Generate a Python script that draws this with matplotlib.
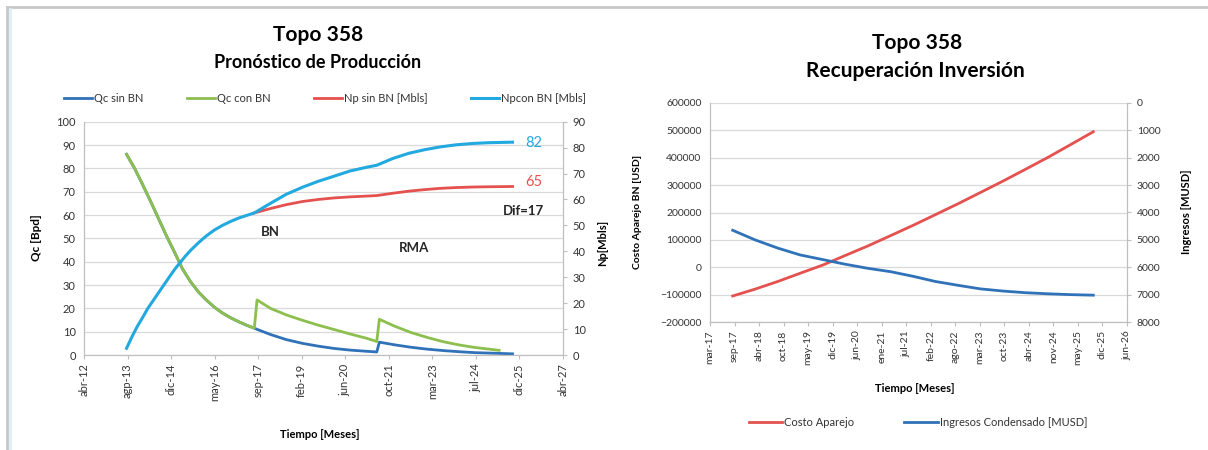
import matplotlib
matplotlib.use('Agg')
import matplotlib.pyplot as plt
import matplotlib.dates as mdates
from matplotlib.lines import Line2D
import numpy as np
import pandas as pd

plt.rcParams['font.family'] = ['Lato', 'DejaVu Sans']

# ---- Left chart: Pronostico de Produccion ----
left_tick_labels = ['abr-12', 'agp-13', 'dic-14', 'may-16', 'sep-17', 'feb-19',
                    'jun-20', 'oct-21', 'mar-23', 'jul-24', 'dic-25', 'abr-27']

# decline shared by both Qc series before the BN install
qc_pre_dates = ['2013-08', '2013-11', '2014-02', '2014-05', '2014-08', '2014-11',
                '2015-02', '2015-05', '2015-08', '2015-11', '2016-02', '2016-05',
                '2016-08', '2016-11', '2017-02', '2017-05', '2017-08']
qc_pre = [86, 80, 73, 66, 58.5, 51, 44, 37, 31.5, 27, 23.5, 20.5,
          18, 16, 14.3, 12.8, 11.5]

qc_sin_dates = ['2017-09', '2018-02', '2018-08', '2019-02', '2019-08', '2020-02',
                '2020-08', '2021-02', '2021-06', '2021-07', '2022-01', '2022-07',
                '2023-01', '2023-07', '2024-01', '2024-07', '2025-01', '2025-09']
qc_sin = [11.0, 8.8, 6.6, 5.0, 3.8, 2.8, 2.1, 1.6, 1.3, 5.5, 4.3, 3.3,
          2.5, 1.9, 1.4, 1.0, 0.8, 0.5]

qc_con_dates = ['2017-09', '2018-02', '2018-08', '2019-02', '2019-08', '2020-02',
                '2020-08', '2021-02', '2021-06', '2021-07', '2022-01', '2022-07',
                '2023-01', '2023-07', '2024-01', '2024-07', '2025-01', '2025-04']
qc_con = [23.6, 20.0, 17.2, 14.9, 12.8, 10.9, 9.0, 7.2, 5.8, 15.3, 12.2, 9.6,
          7.5, 5.7, 4.3, 3.2, 2.4, 2.0]

np_con_dates = ['2013-08', '2013-10', '2013-12', '2014-02', '2014-04', '2014-06',
                '2014-08', '2014-10', '2014-12', '2015-02', '2015-04', '2015-06',
                '2015-08', '2015-11', '2016-02', '2016-05', '2016-08', '2016-11',
                '2017-02', '2017-05', '2017-08', '2018-02', '2018-08', '2019-02',
                '2019-08', '2020-02', '2020-08', '2021-02', '2021-06', '2021-12',
                '2022-06', '2022-12', '2023-06', '2023-12', '2024-06', '2024-12',
                '2025-09']
np_con = [2.6, 7, 11, 14.5, 18, 21, 24, 27, 30, 33, 35.5, 38,
          40.3, 43.3, 46, 48.2, 50, 51.5, 52.8, 53.8, 54.8, 58.5, 62, 64.7,
          67, 69, 71, 72.4, 73.2, 75.8, 77.8, 79.2, 80.3, 81.1, 81.6, 81.9,
          82.1]

np_sin_dates = ['2017-08', '2018-02', '2018-08', '2019-02', '2019-08', '2020-02',
                '2020-08', '2021-02', '2021-06', '2021-12', '2022-06', '2022-12',
                '2023-06', '2023-12', '2024-06', '2024-12', '2025-09']
np_sin = [54.8, 56.5, 58, 59.2, 60, 60.6, 61, 61.3, 61.5, 62.4, 63.2, 63.8,
          64.3, 64.6, 64.8, 64.9, 65]

# ---- Right chart: Recuperacion Inversion ----
right_tick_labels = ['mar-17', 'sep-17', 'abr-18', 'oct-18', 'may-19', 'dic-19',
                     'jun-20', 'ene-21', 'jul-21', 'feb-22', 'ago-22', 'mar-23',
                     'oct-23', 'abr-24', 'nov-24', 'may-25', 'dic-25', 'jun-26']
inv_dates = ['2017-09', '2018-03', '2018-09', '2019-03', '2019-09', '2020-03',
             '2020-09', '2021-03', '2021-09', '2022-03', '2022-09', '2023-03',
             '2023-09', '2024-03', '2024-09', '2025-03', '2025-09']
costo = [-105000, -80000, -52000, -22000, 8000, 43000, 78000, 115000, 153000,
         192000, 232000, 273000, 315000, 358000, 402000, 448000, 495000]
ingresos = [4650, 5000, 5300, 5550, 5720, 5890, 6040, 6160, 6330, 6520, 6660,
            6790, 6870, 6930, 6970, 7000, 7020]

C_BLUE = '#2F72B8'
C_GREEN = '#8CBF4E'
C_RED = '#E4514E'
C_CYAN = '#22A9DF'
C_GRID = '#D9D9D9'
C_SPINE = '#BFBFBF'
C_TEXT = '#333333'

W, H = 1208, 450
fig = plt.figure(figsize=(W / 100, H / 100), dpi=100)
fig.patch.set_facecolor('white')


def style_axes(a, a2, size):
    for s in ['left', 'right', 'bottom', 'top']:
        a.spines[s].set_color(C_SPINE)
        a2.spines[s].set_color(C_SPINE)
    a.spines['top'].set_visible(False)
    a2.spines['top'].set_visible(False)
    a.yaxis.grid(True, color=C_GRID, lw=0.9)
    a.set_axisbelow(True)
    a.tick_params(axis='y', length=0, labelsize=size, labelcolor=C_TEXT, pad=6)
    a2.tick_params(axis='y', length=3, color=C_SPINE, labelsize=size,
                   labelcolor=C_TEXT, pad=4)
    a.tick_params(axis='x', length=3, color=C_SPINE, labelsize=size,
                  labelcolor=C_TEXT, rotation=90, pad=3)


def d(lst):
    return pd.to_datetime(lst)


# ---------------- left chart ----------------
ax = fig.add_axes([84 / W, 1 - 355 / H, (563 - 84) / W, (355 - 121.7) / H])
ax2 = ax.twinx()
style_axes(ax, ax2, 8)

x0, x1 = mdates.date2num(pd.Timestamp('2012-04-01')), mdates.date2num(pd.Timestamp('2027-04-01'))
ax.set_xlim(x0, x1)
ax.set_xticks(np.linspace(x0, x1, len(left_tick_labels)))
ax.set_xticklabels(left_tick_labels)
ax.set_ylim(0, 100)
ax.set_yticks(range(0, 101, 10))
ax2.set_ylim(0, 90)
ax2.set_yticks(range(0, 91, 10))

l1, = ax.plot(d(qc_pre_dates + qc_sin_dates), qc_pre + qc_sin, color=C_BLUE, lw=2.0, label='Qc sin BN')
l2, = ax.plot(d(qc_pre_dates + qc_con_dates), qc_pre + qc_con, color=C_GREEN, lw=2.0, label='Qc con BN')
l3, = ax2.plot(d(np_sin_dates), np_sin, color=C_RED, lw=2.0, label='Np sin BN [Mbls]')
l4, = ax2.plot(d(np_con_dates), np_con, color=C_CYAN, lw=2.2, label='Npcon BN [Mbls]')

ax.text(pd.Timestamp('2026-05-01'), 91, '82', color=C_CYAN, fontsize=10.5, ha='center', va='center')
ax.text(pd.Timestamp('2026-05-01'), 74, '65', color=C_RED, fontsize=10.5, ha='center', va='center')
ax.text(pd.Timestamp('2026-01-01'), 61.8, 'Dif=17', color='#262626', fontsize=9.5,
        fontweight='bold', ha='center', va='center')
ax.text(pd.Timestamp('2018-02-01'), 52.7, 'BN', color='#262626', fontsize=9.5,
        fontweight='bold', ha='center', va='center')
ax.text(pd.Timestamp('2022-08-01'), 46, 'RMA', color='#262626', fontsize=9.5,
        fontweight='bold', ha='center', va='center')

fig.legend(handles=[l1, l2, l3, l4], loc='center', bbox_to_anchor=(325 / W, 1 - 98 / H),
           ncol=4, frameon=False, fontsize=8, handlelength=2.5, columnspacing=3.9,
           handletextpad=0.2, labelcolor=C_TEXT)

fig.text(318 / W, 1 - 35 / H, 'Topo 358', fontsize=15, fontweight='bold', ha='center', va='center')
fig.text(318 / W, 1 - 63 / H, 'Pronóstico de Producción', fontsize=13, fontweight='bold',
         ha='center', va='center')
fig.text(36 / W, 1 - 238 / H, 'Qc [Bpd]', fontsize=8.5, fontweight='bold', rotation=90,
         ha='center', va='center')
fig.text(603 / W, 1 - 243 / H, 'Np[Mbls]', fontsize=8, fontweight='bold', rotation=90,
         ha='center', va='center')
fig.text(320 / W, 1 - 435 / H, 'Tiempo [Meses]', fontsize=8, fontweight='bold',
         ha='center', va='center')

# ---------------- right chart ----------------
bx = fig.add_axes([710 / W, 1 - 322 / H, (1127 - 710) / W, (322 - 103) / H])
bx2 = bx.twinx()
style_axes(bx, bx2, 7.5)

r0, r1 = mdates.date2num(pd.Timestamp('2017-03-01')), mdates.date2num(pd.Timestamp('2026-06-01'))
bx.set_xlim(r0, r1)
bx.set_xticks(np.linspace(r0, r1, len(right_tick_labels)))
bx.set_xticklabels(right_tick_labels)
bx.set_ylim(-200000, 600000)
bx.set_yticks(range(-200000, 600001, 100000))
bx2.set_ylim(8000, 0)
bx2.set_yticks(range(0, 8001, 1000))

m1, = bx.plot(d(inv_dates), costo, color=C_RED, lw=2.0, label='Costo Aparejo')
m2, = bx2.plot(d(inv_dates), ingresos, color=C_BLUE, lw=2.0, label='Ingresos Condensado [MUSD]')

fig.legend(handles=[m1, m2], loc='center', bbox_to_anchor=(918 / W, 1 - 422 / H),
           ncol=2, frameon=False, fontsize=8, handlelength=3.0, columnspacing=4.5,
           handletextpad=0.2, labelcolor=C_TEXT)

fig.text(917 / W, 1 - 43 / H, 'Topo 358', fontsize=15, fontweight='bold', ha='center', va='center')
fig.text(915 / W, 1 - 71 / H, 'Recuperación Inversión', fontsize=15, fontweight='bold',
         ha='center', va='center')
fig.text(638 / W, 1 - 212 / H, 'Costo Aparejo BN [USD]', fontsize=7.5, fontweight='bold',
         rotation=90, ha='center', va='center')
fig.text(1187 / W, 1 - 212 / H, 'Ingresos [MUSD]', fontsize=8, fontweight='bold',
         rotation=90, ha='center', va='center')
fig.text(915 / W, 1 - 388 / H, 'Tiempo [Meses]', fontsize=8, fontweight='bold',
         ha='center', va='center')

# outer frame of the pasted charts
fig.add_artist(Line2D([7 / W, 1], [1 - 7 / H, 1 - 7 / H], color='#C8C8C8', lw=2))
fig.add_artist(Line2D([7 / W, 7 / W], [0, 1 - 7 / H], color='#C8C8C8', lw=2))
fig.add_artist(Line2D([10 / W, 10 / W], [0, 1 - 9 / H], color='#DDEFF8', lw=2))

fig.savefig('out.png', dpi=100)
